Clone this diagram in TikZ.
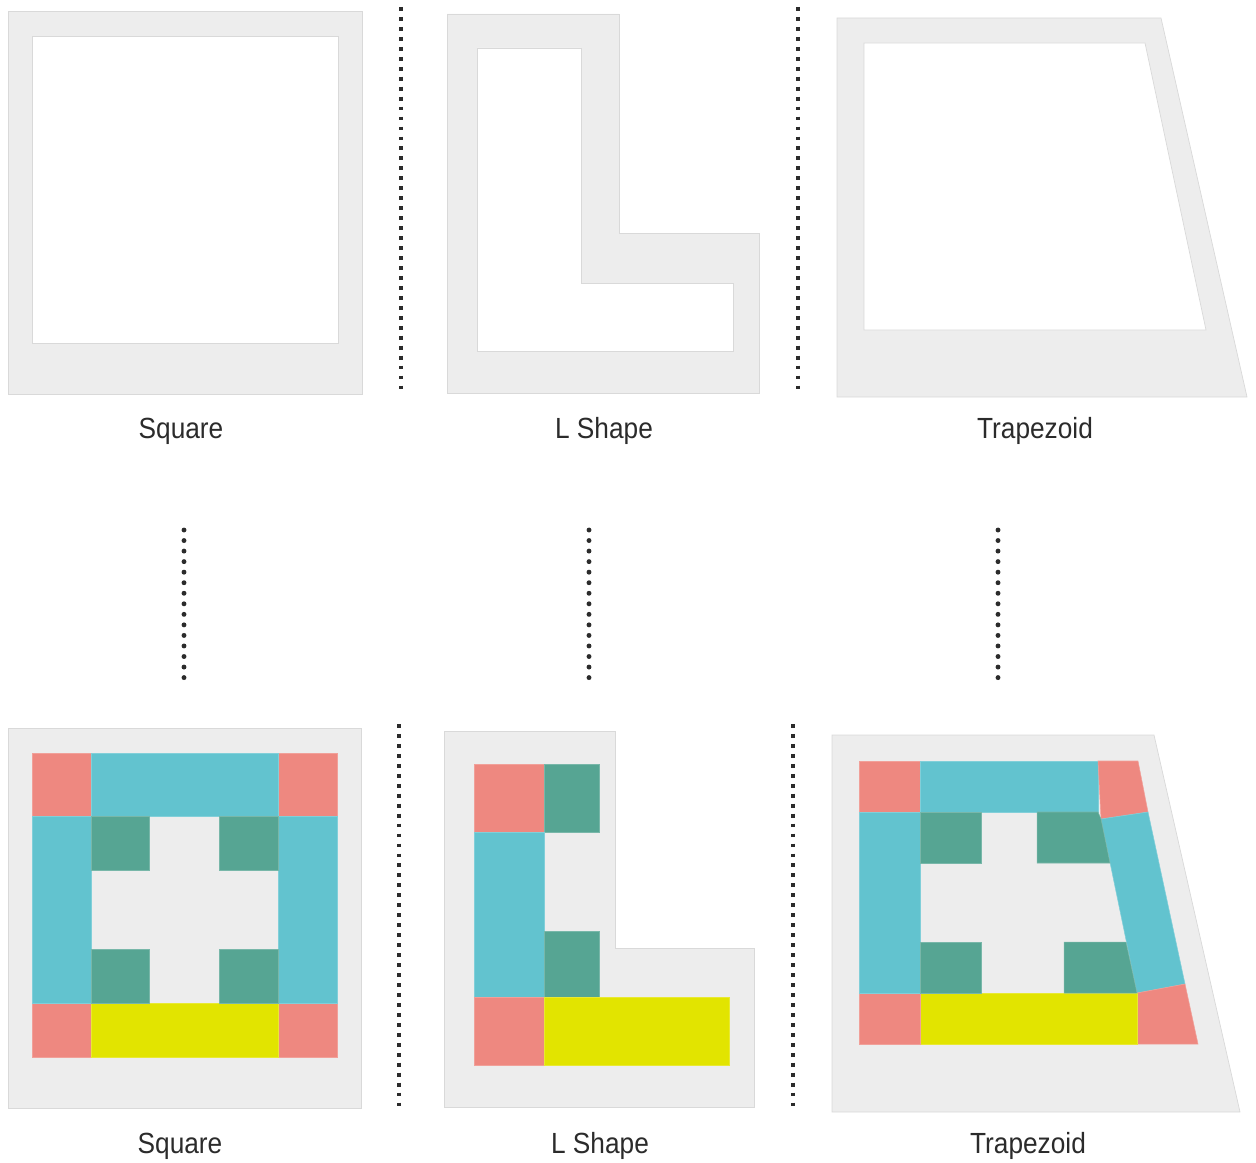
\documentclass[tikz,border=0pt]{standalone}
\usepackage{fontspec}
\setmainfont[FakeStretch=0.9]{Liberation Sans}
\usepackage{tikz}
\usetikzlibrary{positioning}
\definecolor{cshell}{HTML}{EDEDED}
\definecolor{cshellD}{HTML}{D9D9D9}
\definecolor{cpink}{HTML}{EE8880}
\definecolor{ccyan}{HTML}{62C3CF}
\definecolor{cgreen}{HTML}{56A593}
\definecolor{cyell}{HTML}{E2E400}
\definecolor{ctext}{HTML}{2B2B2B}
\tikzset{
  shell/.style={fill=cshell, draw=cshellD, line width=0.4pt},
  hole/.style={fill=white, draw=cshellD, line width=0.4pt},
  tpink/.style={fill=cpink, draw=cpink!80!white, line width=0.3pt},
  tcyan/.style={fill=ccyan, draw=ccyan!80!white, line width=0.3pt},
  tgreen/.style={fill=cgreen, draw=cgreen!80!white, line width=0.3pt},
  tyell/.style={fill=cyell, draw=cyell!80!white, line width=0.3pt},
  sepline/.style={draw=ctext, line width=2.2pt, dash pattern=on 2.2pt off 3.47pt},
  dotline/.style={draw=ctext, line width=2.8pt, line cap=round, dash pattern=on 0pt off 6pt},
  lbl/.style={anchor=base, inner sep=0pt, text=ctext, font=\fontsize{16.6}{20}\selectfont},
}
\begin{document}
\begin{tikzpicture}[x=0.02cm, y=-0.02cm]
  \useasboundingbox (0,0) rectangle (1256,1162);
  % top row: plain outlines
  \draw[shell] (8,11) rectangle (362,394);
  \draw[hole] (32,36) rectangle (338,343);
  \draw[shell] (447,14) -- (619,14) -- (619,233) -- (759,233) -- (759,393) -- (447,393) -- cycle;
  \draw[hole] (477,48) -- (581,48) -- (581,283) -- (733,283) -- (733,351) -- (477,351) -- cycle;
  \draw[shell] (837,18) -- (1161,18) -- (1247,397) -- (837,397) -- cycle;
  \draw[hole] (864,43) -- (1145,43) -- (1206,330) -- (864,330) -- cycle;
  \node[lbl] (sq1) at (181,438) {Square};
  \node[lbl] (ls1) at (604,438) {L Shape};
  \node[lbl] (tr1) at (1035,438) {Trapezoid};
  \draw[sepline] (401,7) -- (401,395);
  \draw[sepline] (798,7) -- (798,395);
  % links between rows
  \coordinate (a1) at (184,530); \coordinate (a2) at (184,678);
  \coordinate (b1) at (589,530); \coordinate (b2) at (589,678);
  \coordinate (c1) at (998,530); \coordinate (c2) at (998,678);
  \draw[dotline] (a1) -- (a2);
  \draw[dotline] (b1) -- (b2);
  \draw[dotline] (c1) -- (c2);
  % bottom row: square
  \draw[shell] (8,728) rectangle (361,1108);
  \fill[tpink] (32,753) rectangle (91,816);
  \fill[tpink] (278,753) rectangle (337,816);
  \fill[tpink] (32,1003) rectangle (91,1057);
  \fill[tpink] (278,1003) rectangle (337,1057);
  \fill[tcyan] (91,753) rectangle (278,816);
  \fill[tcyan] (32,816) rectangle (91,1003);
  \fill[tcyan] (278,816) rectangle (337,1003);
  \fill[tyell] (91,1003) rectangle (278,1057);
  \fill[tgreen] (91,816) rectangle (149,870);
  \fill[tgreen] (219,816) rectangle (278,870);
  \fill[tgreen] (91,949) rectangle (149,1003);
  \fill[tgreen] (219,949) rectangle (278,1003);
  % bottom row: L shape
  \draw[shell] (444,731) -- (615,731) -- (615,948) -- (754,948) -- (754,1107) -- (444,1107) -- cycle;
  \fill[tpink] (474,764) rectangle (544,832);
  \fill[tgreen] (544,764) rectangle (599,832);
  \fill[tcyan] (474,832) rectangle (544,997);
  \fill[tgreen] (544,931) rectangle (599,997);
  \fill[tpink] (474,997) rectangle (544,1065);
  \fill[tyell] (544,997) rectangle (729,1065);
  % bottom row: trapezoid
  \draw[shell] (832,735) -- (1154,735) -- (1240,1112) -- (832,1112) -- cycle;
  \fill[tpink] (859,761) rectangle (920,812);
  \fill[tcyan] (920,761) rectangle (1098,812);
  \fill[tpink] (1098,761) -- (1138,761) -- (1148,812) -- (1101,819) -- cycle;
  \fill[tcyan] (1101,819) -- (1148,812) -- (1185,984) -- (1137,993) -- cycle;
  \fill[tpink] (1137,993) -- (1185,984) -- (1198,1044) -- (1137,1044) -- cycle;
  \fill[tyell] (920,993) rectangle (1137,1044);
  \fill[tpink] (859,993) rectangle (920,1044);
  \fill[tcyan] (859,812) rectangle (920,993);
  \fill[tgreen] (920,812) rectangle (981,863);
  \fill[tgreen] (1037,812) -- (1098,812) -- (1101,819) -- (1110,863) -- (1037,863) -- cycle;
  \fill[tgreen] (920,942) rectangle (981,993);
  \fill[tgreen] (1064,942) -- (1126,942) -- (1137,993) -- (1064,993) -- cycle;
  \node[lbl] (sq2) at (180,1153) {Square};
  \node[lbl] (ls2) at (600,1153) {L Shape};
  \node[lbl] (tr2) at (1028,1153) {Trapezoid};
  \draw[sepline] (399,724) -- (399,1108);
  \draw[sepline] (793,724) -- (793,1108);
\end{tikzpicture}
\end{document}
